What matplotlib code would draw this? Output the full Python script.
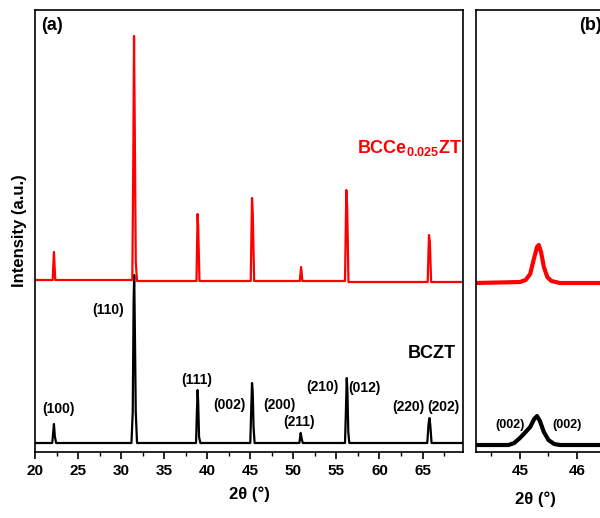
import matplotlib.pyplot as plt
from matplotlib.ticker import MultipleLocator

plt.rcParams['font.family'] = ['Liberation Sans', 'DejaVu Sans']
plt.rcParams['font.weight'] = 'bold'
plt.rcParams['mathtext.fontset'] = 'custom'
plt.rcParams['mathtext.rm'] = 'Liberation Sans:bold'
plt.rcParams['mathtext.default'] = 'rm'

# (a) full pattern (arbitrary intensity units)
bczt_x = [20, 22.0, 22.1, 22.2, 22.3, 22.45,
          31.2, 31.35, 31.45, 31.52, 31.6, 31.7, 31.85,
          38.7, 38.8, 38.88, 38.95, 39.05, 39.2,
          45.0, 45.1, 45.2, 45.28, 45.38, 45.5,
          50.7, 50.85, 51.0, 51.1,
          56.0, 56.1, 56.2, 56.28, 56.38, 56.5,
          65.55, 65.7, 65.8, 65.9, 66.05, 69.7]
bczt_y = [9, 9, 18, 28, 16, 9,
          9, 40, 150, 177, 120, 40, 9,
          9, 40, 62, 50, 15, 9,
          9, 40, 69, 60, 25, 9,
          9, 19, 12, 9,
          9, 40, 74, 60, 20, 9,
          9, 28, 34, 27, 9, 9]

bcce_x = [20, 22.05, 22.2, 22.35,
          31.3, 31.42, 31.5, 31.58, 31.7, 31.85,
          38.75, 38.88, 38.95, 39.1,
          45.05, 45.2, 45.28, 45.45,
          50.75, 50.9, 51.05,
          56.0, 56.15, 56.25, 56.4,
          65.6, 65.75, 65.85, 66.0, 69.7]
bcce_y = [172, 172, 200, 172,
          172, 300, 416, 330, 190, 171,
          171, 238, 225, 171,
          171, 254, 240, 171,
          171, 185, 171,
          171, 262, 245, 170,
          170, 217, 210, 170, 170]

# (b) zoom on the (002)/(200) peak
zb_x = [44.23, 44.8, 44.9, 45.0, 45.1, 45.18, 45.25, 45.3, 45.35, 45.42, 45.5, 45.6, 45.7, 47.0]
zb_bczt = [7, 7, 9, 14, 20, 25, 33, 36, 31, 20, 12, 8, 7, 7]
zb_x2 = [44.23, 45.0, 45.1, 45.18, 45.24, 45.3, 45.33, 45.37, 45.42, 45.48, 45.55, 45.7, 47.0]
zb_bcce = [169, 170, 172, 178, 192, 205, 207, 200, 185, 175, 171, 169, 169]

hkl = ['(100)', '(110)', '(111)', '(002)', '(200)', '(211)', '(210)', '(012)', '(220)', '(202)']
hkl_pos = [(22.7, 43), (28.5, 142), (38.8, 72), (42.6, 47), (48.4, 47),
           (50.7, 30), (53.4, 65), (58.3, 64), (63.3, 45), (67.4, 45)]

fig = plt.figure(figsize=(6, 5.18), dpi=100)
ax = fig.add_axes([35/600, 66/518, 428/600, 442/518])
ax2 = fig.add_axes([476/600, 66/518, 158/600, 442/518])

ax.plot(bczt_x, bczt_y, color='black', lw=1.6)
ax.plot(bcce_x, bcce_y, color='red', lw=1.6)
ax.set_xlim(20, 69.7)
ax.set_ylim(0, 442)
ax.xaxis.set_major_locator(MultipleLocator(5))
ax.xaxis.set_minor_locator(MultipleLocator(2.5))
ax.set_yticks([])
ax.tick_params(axis='x', direction='out', labelsize=11, width=1.2, length=5)
ax.tick_params(axis='x', which='minor', direction='out', width=1.0, length=3)
for lab in ax.get_xticklabels():
    lab.set_fontweight('bold')
for s in ax.spines.values():
    s.set_linewidth(1.2)
ax.set_xlabel('2θ (°)', fontsize=12, fontweight='bold', labelpad=6)
ax.set_ylabel('Intensity (a.u.)', fontsize=12, fontweight='bold', labelpad=6)

for t, (px, py) in zip(hkl, hkl_pos):
    ax.text(px, py, t, fontsize=10, fontweight='bold', ha='center', va='center')
ax.text(66.1, 98, 'BCZT', fontsize=13, fontweight='bold', ha='center', va='center')
ax.text(63.5, 304, r'BCCe$_{0.025}$ZT', fontsize=13, fontweight='bold', color='red',
        ha='center', va='center')
ax.text(0.015, 0.985, '(a)', transform=ax.transAxes, fontsize=13, fontweight='bold',
        ha='left', va='top')

ax2.plot(zb_x, zb_bczt, color='black', lw=3)
ax2.plot(zb_x2, zb_bcce, color='red', lw=3)
ax2.set_xlim(44.23, 47.0)
ax2.set_ylim(0, 442)
ax2.set_xticks([45, 46])
ax2.set_xticks([44.5, 45.5, 46.5], minor=True)
ax2.set_yticks([])
ax2.tick_params(axis='x', direction='out', labelsize=11, width=1.2, length=5)
ax2.tick_params(axis='x', which='minor', direction='out', width=1.0, length=3)
for lab in ax2.get_xticklabels():
    lab.set_fontweight('bold')
for s in ax2.spines.values():
    s.set_linewidth(1.2)
ax2.set_xlabel('2θ (°)', fontsize=12, fontweight='bold', labelpad=6)
ax2.xaxis.set_label_coords((535 - 476) / 158, -0.09)
ax2.text(44.82, 27, '(002)', fontsize=9, fontweight='bold', ha='center', va='center')
ax2.text(45.82, 27, '(002)', fontsize=9, fontweight='bold', ha='center', va='center')
ax2.text(46.23, 427, '(b)', fontsize=13, fontweight='bold', ha='center', va='center')

fig.savefig('out.png', dpi=100)
